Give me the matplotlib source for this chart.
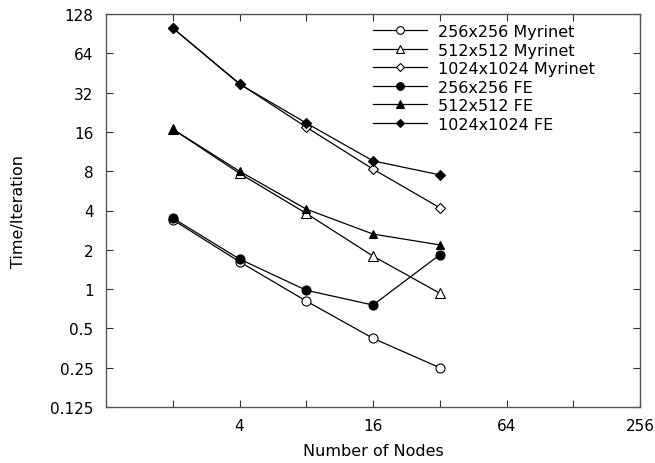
import matplotlib
matplotlib.use("Agg")
import matplotlib.pyplot as plt
from matplotlib.ticker import FixedLocator, FixedFormatter, NullFormatter

plt.rcParams['font.family'] = ['DejaVu Sans']

nodes = [2, 4, 8, 16, 32]
myr_256 = [3.4, 1.62, 0.81, 0.42, 0.25]
myr_512 = [16.8, 7.7, 3.8, 1.79, 0.93]
myr_1024 = [100, 37.5, 17.4, 8.3, 4.2]
fe_256 = [3.5, 1.70, 0.98, 0.755, 1.83]
fe_512 = [16.8, 8.0, 4.1, 2.64, 2.18]
fe_1024 = [100, 37.2, 18.7, 9.6, 7.5]

labels = ["256x256 Myrinet", "512x512 Myrinet", "1024x1024 Myrinet",
          "256x256 FE", "512x512 FE", "1024x1024 FE"]

y_ticks = [0.125, 0.25, 0.5, 1, 2, 4, 8, 16, 32, 64, 128]
y_ticklabels = ["0.125", "0.25", "0.5", "1", "2", "4", "8", "16", "32", "64", "128"]
x_major = [4, 16, 64, 256]
x_major_labels = ["4", "16", "64", "256"]
x_minor = [2, 8, 32, 128]

fig = plt.figure(figsize=(6.55, 4.64), dpi=100)
ax = fig.add_axes([106/655, 1-408/464, (640-106)/655, (408-15)/464])

series = [myr_256, myr_512, myr_1024, fe_256, fe_512, fe_1024]
markers = ['o', '^', 'D', 'o', '^', 'D']
sizes = [6.5, 6.5, 5, 6.5, 6, 5]
fills = ['white', 'white', 'white', 'black', 'black', 'black']
for s, m, ms, fc, lab in zip(series, markers, sizes, fills, labels):
    ax.plot(nodes, s, color='black', linewidth=0.9, marker=m, markersize=ms,
            markerfacecolor=fc, markeredgecolor='black', markeredgewidth=0.8,
            label=lab)

ax.set_xscale('log', base=2)
ax.set_yscale('log', base=2)
ax.set_xlim(1, 256)
ax.set_ylim(0.125, 128)

ax.xaxis.set_major_locator(FixedLocator(x_major))
ax.xaxis.set_major_formatter(FixedFormatter(x_major_labels))
ax.xaxis.set_minor_locator(FixedLocator(x_minor))
ax.xaxis.set_minor_formatter(NullFormatter())
ax.yaxis.set_major_locator(FixedLocator(y_ticks))
ax.yaxis.set_major_formatter(FixedFormatter(y_ticklabels))
ax.yaxis.set_minor_locator(FixedLocator([]))

ax.tick_params(axis='both', which='both', direction='in', top=True, right=True,
               length=5, width=0.8, colors='#333333', labelcolor='black',
               labelsize=11)
ax.tick_params(axis='y', which='major', pad=9)
ax.tick_params(axis='x', which='major', pad=8)

for sp in ax.spines.values():
    sp.set_color('#555555')
    sp.set_linewidth(1.0)

ax.set_xlabel("Number of Nodes", fontsize=11.5)
ax.set_ylabel("Time/Iteration", fontsize=11.5)
ax.xaxis.set_label_coords(0.5, -(444-408)/393)
ax.yaxis.set_label_coords((26-106)/534, 0.5)

leg = ax.legend(loc='upper left',
                bbox_to_anchor=((373-106)/534, (408-25)/393),
                frameon=False, fontsize=11.5, handlelength=3.4,
                handletextpad=0.7, labelspacing=0.22, borderpad=0,
                borderaxespad=0, markerscale=0.85)

fig.savefig("out.png", dpi=100)
